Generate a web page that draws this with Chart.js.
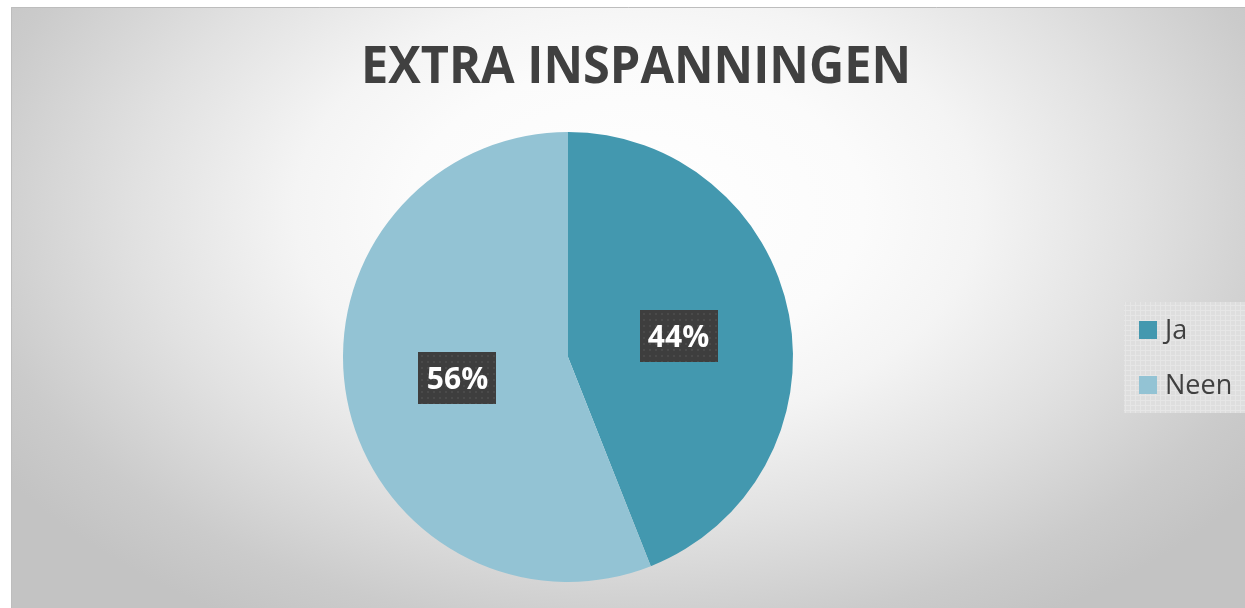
<!DOCTYPE html>
<html>
<head>
<meta charset="utf-8">
<script src="https://cdn.jsdelivr.net/npm/chart.js@4/dist/chart.umd.min.js"></script>
<style>
html,body{margin:0;padding:0;background:#fff;}
#wrap{position:absolute;left:0;top:0;width:1245px;height:608px;}
</style>
</head>
<body>
<div id="wrap"><canvas id="c" width="1245" height="608"></canvas></div>
<script>
const titleText = 'EXTRA INSPANNINGEN';
const categories = ['Ja', 'Neen'];
const values = [44, 56];
const labelsPct = ['44%', '56%'];
const colors = ['#4398AF', '#93C3D4'];

function makePattern(base, dot, step, kind){
  const p = document.createElement('canvas');
  p.width = step; p.height = step;
  const g = p.getContext('2d');
  g.fillStyle = base; g.fillRect(0,0,step,step);
  g.fillStyle = dot;
  if (kind === 'dot') { g.fillRect(1,1,2,2); }
  else { g.fillRect(0,0,step,1); g.fillRect(0,0,1,step); }
  return p;
}

const bgPlugin = {
  id: 'bg',
  beforeDraw(chart){
    const ctx = chart.ctx;
    ctx.save();
    ctx.fillStyle = '#ffffff';
    ctx.fillRect(0,0,1245,608);
    ctx.save();
    ctx.beginPath();
    ctx.rect(11,7,1245,608);
    ctx.clip();
    const cx = 636, cy = 210, rx = 760, ry = 480;
    ctx.translate(cx, cy);
    ctx.scale(1, ry/rx);
    const gr = ctx.createRadialGradient(0,0,0,0,0,rx);
    gr.addColorStop(0, '#ffffff');
    gr.addColorStop(0.3, '#fbfbfb');
    gr.addColorStop(0.45, '#f4f4f4');
    gr.addColorStop(0.66, '#e1e1e1');
    gr.addColorStop(0.88, '#cbcbcb');
    gr.addColorStop(1, '#c3c3c3');
    ctx.fillStyle = gr;
    ctx.fillRect(-cx-20, -cy*rx/ry-20, 1400, 2000);
    ctx.restore();
    ctx.strokeStyle = '#bdbdbd';
    ctx.lineWidth = 1;
    ctx.beginPath();
    ctx.moveTo(11.5, 608); ctx.lineTo(11.5, 7.5); ctx.lineTo(1245, 7.5);
    ctx.stroke();
    ctx.restore();
  }
};

const overlayPlugin = {
  id: 'overlay',
  afterDraw(chart){
    const ctx = chart.ctx;
    ctx.save();
    ctx.font = 'bold 52px "Open Sans"';
    ctx.fillStyle = '#404040';
    ctx.textBaseline = 'alphabetic';
    ctx.textAlign = 'left';
    const tw = ctx.measureText(titleText).width;
    const sx = 550 / tw;
    ctx.save();
    ctx.translate(361, 83);
    ctx.scale(sx, 1);
    ctx.fillText(titleText, 0, 0);
    ctx.restore();

    const meta = chart.getDatasetMeta(0);
    const boxPat = ctx.createPattern(makePattern('#3e3e3e', '#4a4a4a', 6, 'dot'), 'repeat');
    meta.data.forEach((arc, i) => {
      const pos = arc.tooltipPosition();
      const bw = 78, bh = 52;
      ctx.fillStyle = boxPat;
      ctx.fillRect(Math.round(pos.x - bw/2), Math.round(pos.y - bh/2), bw, bh);
      ctx.fillStyle = '#ffffff';
      ctx.font = 'bold 30px "Open Sans"';
      ctx.textAlign = 'center';
      ctx.textBaseline = 'alphabetic';
      ctx.fillText(labelsPct[i], pos.x, pos.y + 11);
    });

    const legPat = ctx.createPattern(makePattern('#dedede', '#e6e6e6', 5, 'grid'), 'repeat');
    ctx.fillStyle = legPat;
    ctx.fillRect(1124, 302, 121, 111);
    const ys = [321, 376];
    categories.forEach((c, i) => {
      ctx.fillStyle = colors[i];
      ctx.fillRect(1139, ys[i], 18, 18);
      ctx.fillStyle = '#404040';
      ctx.font = '27px "Open Sans"';
      ctx.textAlign = 'left';
      ctx.textBaseline = 'alphabetic';
      ctx.fillText(c, 1165, ys[i] + 18);
    });
    ctx.restore();
  }
};

new Chart(document.getElementById('c'), {
  type: 'pie',
  data: {
    labels: categories,
    datasets: [{
      data: values,
      backgroundColor: colors,
      borderWidth: 0,
      hoverOffset: 0
    }]
  },
  options: {
    responsive: false,
    animation: false,
    layout: { padding: { left: 343, right: 452, top: 132, bottom: 26 } },
    plugins: {
      legend: { display: false },
      title: { display: false },
      tooltip: { enabled: false }
    }
  },
  plugins: [bgPlugin, overlayPlugin]
});
</script>
</body>
</html>
